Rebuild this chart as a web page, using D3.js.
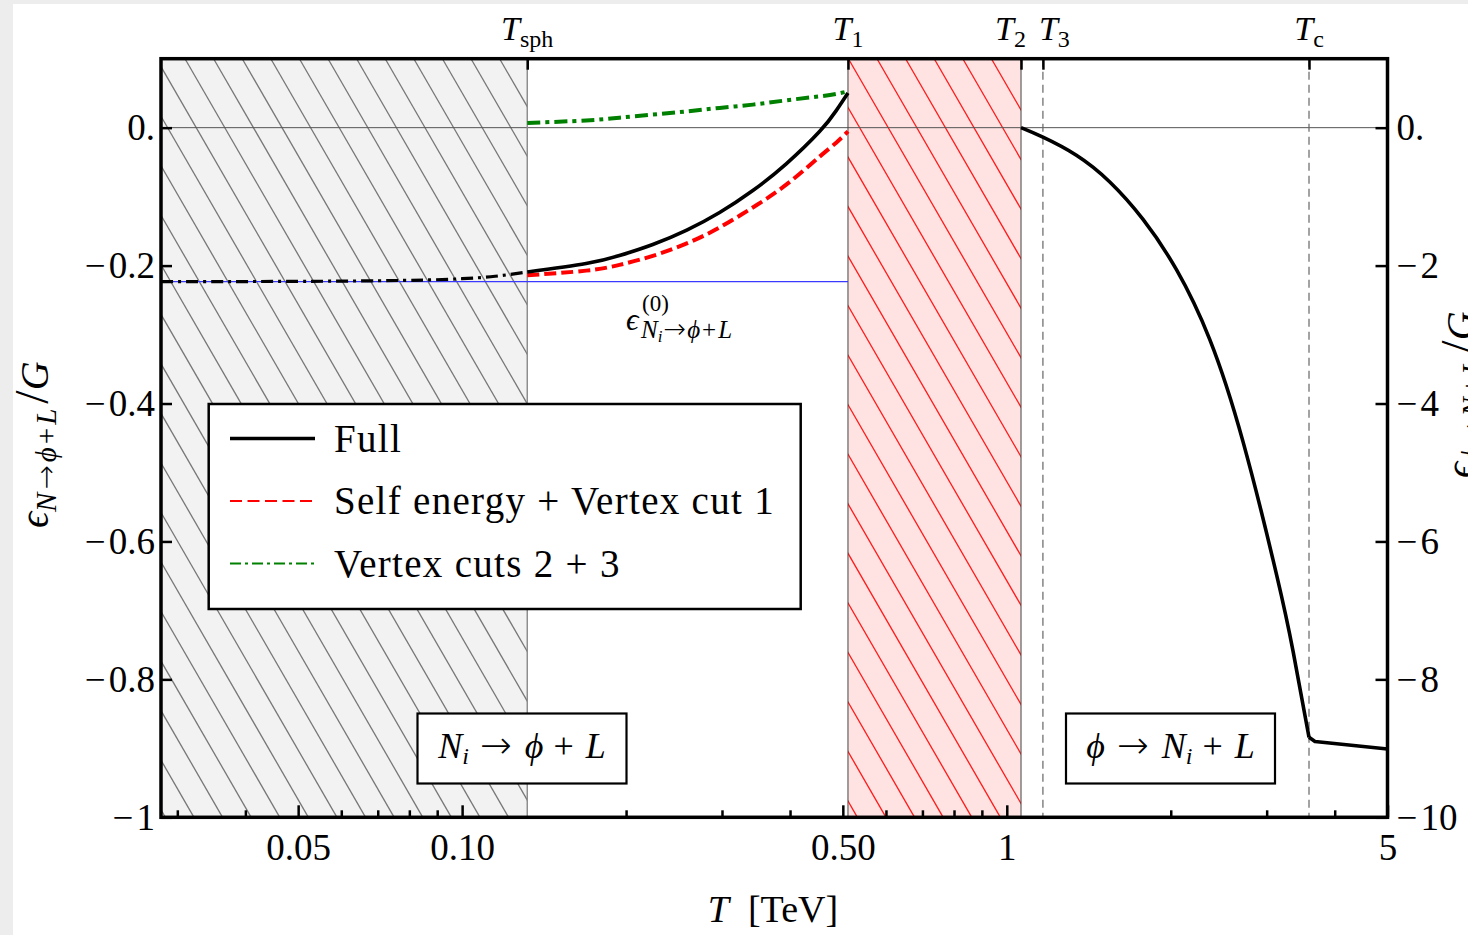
<!DOCTYPE html>
<html>
<head>
<meta charset="utf-8">
<script src="https://cdn.jsdelivr.net/npm/d3@7"></script>
<style>
  body { margin: 0; background: #fff; }
  svg text { font-family: "Liberation Serif", "DejaVu Serif", serif; fill: #000; }
</style>
</head>
<body>
<script>
// ---- data ----
// T in TeV, left axis: eps(N -> phi + L)/G, right axis: eps(phi -> N + L)/G
const tempLow = [0.028, 0.05, 0.07, 0.085, 0.1, 0.115, 0.1317];
const fullLow = [-0.2233, -0.2229, -0.2220, -0.2210, -0.2190, -0.2155, -0.2093];

const tempMid   = [0.1317, 0.1689, 0.1945, 0.2239, 0.2585, 0.2970, 0.3418, 0.3936, 0.4531, 0.4862, 0.511];
const fullMid   = [-0.2093, -0.1971, -0.1855, -0.1695, -0.1486, -0.1231, -0.0912, -0.0525, -0.0057, 0.0247, 0.0503];
const selfMid   = [-0.2141, -0.2073, -0.1990, -0.1859, -0.1679, -0.1447, -0.1157, -0.0827, -0.0421, -0.0218, -0.0054];
const vertexMid = [0.0068, 0.0105, 0.0145, 0.0189, 0.0236, 0.0286, 0.0334, 0.0396, 0.0454, 0.0490, 0.0526];

const tempHigh = [1.062, 1.165, 1.342, 1.544, 1.779, 2.049, 2.358, 2.716, 3.128, 3.356, 3.588];
const fullHigh = [0, -0.138, -0.40, -0.784, -1.33, -2.06, -3.07, -4.56, -6.48, -7.60, -8.84];
const tempTail = [3.588, 3.68, 5];
const fullTail = [-8.84, -8.90, -9.01];

const eps0 = -0.2233;

const markTemps = [0.1317, 0.511, 1.062, 1.165, 3.588];
const markNames = ["sph", "1", "2", "3", "c"];

const xMajor = [0.05, 0.1, 0.5, 1, 5];
const xMajorLabels = ["0.05", "0.10", "0.50", "1", "5"];
const xMinor = [0.03, 0.04, 0.06, 0.07, 0.08, 0.09, 0.2, 0.3, 0.4, 0.6, 0.7, 0.8, 0.9, 2, 3, 4];
const yLeftTicks = [0, -0.2, -0.4, -0.6, -0.8, -1];
const yLeftLabels = ["0.", "\u2212\u200a0.2", "\u2212\u200a0.4", "\u2212\u200a0.6", "\u2212\u200a0.8", "\u2212\u200a1"];
const yRightTicks = [0, -2, -4, -6, -8, -10];
const yRightLabels = ["0.", "\u2212\u200a2", "\u2212\u200a4", "\u2212\u200a6", "\u2212\u200a8", "\u2212\u200a10"];

const legendNames = ["Full", "Self energy + Vertex cut 1", "Vertex cuts 2 + 3"];

// ---- layout ----
const W = 1468, H = 935;
const L = 161, R = 1387.5, T = 58.7, B = 817.3;
const ARROW = '"DejaVu Sans", sans-serif';

const svg = d3.select('body').append('svg')
  .attr('width', W).attr('height', H);

// page border like the screenshot
svg.append('rect').attr('width', W).attr('height', H).attr('fill', '#ededed');
svg.append('rect').attr('x', 13).attr('y', 4).attr('width', W - 13).attr('height', H - 4).attr('fill', '#fff');

const x = d3.scaleLog().domain([0.028, 5]).range([L, R]);
const yL = d3.scaleLinear().domain([-1, 0.1]).range([B, T]);
const yR = d3.scaleLinear().domain([-10, 1]).range([B, T]);

const defs = svg.append('defs');
defs.append('clipPath').attr('id', 'plot-clip')
  .append('rect').attr('x', L).attr('y', T).attr('width', R - L).attr('height', B - T);

// shaded + hatched regions
function hatchRegion(x0, x1, fill, stroke, phase) {
  const id = 'clip' + Math.round(x0);
  defs.append('clipPath').attr('id', id)
    .append('rect').attr('x', x0).attr('y', T).attr('width', x1 - x0).attr('height', B - T);
  const g = svg.append('g').attr('clip-path', `url(#${id})`);
  g.append('rect').attr('x', x0).attr('y', T).attr('width', x1 - x0).attr('height', B - T).attr('fill', fill);
  const step = 28.6;
  const run = (B - T) / Math.tan(Math.PI / 3);
  const kMin = Math.floor((x0 - run - phase) / step) - 1;
  const kMax = Math.ceil((x1 - phase) / step) + 1;
  g.selectAll('line').data(d3.range(kMin, kMax + 1)).enter().append('line')
    .attr('x1', k => phase + k * step).attr('y1', T)
    .attr('x2', k => phase + k * step + run).attr('y2', B)
    .attr('stroke', stroke).attr('stroke-width', 1.3);
}
hatchRegion(x(0.028), x(markTemps[0]), '#f2f2f2', '#777', 185);
hatchRegion(x(markTemps[1]), x(markTemps[2]), '#ffe2e2', '#ff1a1a', 877);

// zero line
svg.append('line')
  .attr('x1', L).attr('x2', R).attr('y1', yL(0)).attr('y2', yL(0))
  .attr('stroke', '#555').attr('stroke-width', 1);

// vertical markers
const vStyles = [
  { c: '#888', w: 1.4, d: null },
  { c: '#444', w: 1, d: null },
  { c: '#444', w: 1, d: null },
  { c: '#666', w: 1.2, d: '8,5' },
  { c: '#666', w: 1.2, d: '8,5' }
];
svg.append('g').selectAll('line').data(markTemps).enter().append('line')
  .attr('x1', d => x(d)).attr('x2', d => x(d))
  .attr('y1', T).attr('y2', B)
  .attr('stroke', (d, i) => vStyles[i].c)
  .attr('stroke-width', (d, i) => vStyles[i].w)
  .attr('stroke-dasharray', (d, i) => vStyles[i].d);

// tree level line
svg.append('line')
  .attr('x1', x(0.028)).attr('x2', x(markTemps[1]))
  .attr('y1', yL(eps0)).attr('y2', yL(eps0))
  .attr('stroke', '#3a3aff').attr('stroke-width', 1.2);

// curves
const plot = svg.append('g').attr('clip-path', 'url(#plot-clip)');
function curve(ts, vs, yScale, color, width, dash, curveType) {
  const line = d3.line()
    .x(d => x(d[0])).y(d => yScale(d[1]))
    .curve(curveType || d3.curveNatural);
  plot.append('path')
    .datum(d3.zip(ts, vs))
    .attr('d', line)
    .attr('fill', 'none')
    .attr('stroke', color)
    .attr('stroke-width', width)
    .attr('stroke-dasharray', dash)
    .attr('stroke-linejoin', 'round');
}
curve(tempLow, fullLow, yL, '#000', 3.2, '12,5,3,5');
curve(tempMid, selfMid, yL, '#ff0000', 4, '12,5');
curve(tempMid, fullMid, yL, '#000', 3.6, null);
curve(tempMid, vertexMid, yL, '#008000', 4, '13,5,4,5');
curve(tempHigh, fullHigh, yR, '#000', 3.6, null);
curve(tempTail, fullTail, yR, '#000', 3.6, null, d3.curveLinear);

// ---- axes ----
function styleAxis(g) {
  g.select('.domain').remove();
  g.selectAll('.tick line').attr('stroke', '#000').attr('stroke-width', 2.5);
  g.selectAll('.tick text').attr('font-size', 37).attr('fill', '#000')
    .attr('font-family', '"Liberation Serif", "DejaVu Serif", serif');
}

svg.append('g').attr('transform', `translate(0,${B})`)
  .call(d3.axisBottom(x).tickValues(xMajor).tickSize(-12).tickPadding(16)
    .tickFormat((d, i) => xMajorLabels[i]))
  .call(styleAxis);
svg.append('g').attr('transform', `translate(0,${B})`)
  .call(d3.axisBottom(x).tickValues(xMinor).tickSize(-7).tickFormat(''))
  .call(styleAxis);

svg.append('g').attr('transform', `translate(0,${T})`)
  .call(d3.axisTop(x).tickValues(markTemps).tickSize(-11).tickFormat(''))
  .call(styleAxis);

svg.append('g').attr('transform', `translate(${L},0)`)
  .call(d3.axisLeft(yL).tickValues(yLeftTicks).tickSize(-11).tickPadding(6)
    .tickFormat((d, i) => yLeftLabels[i]))
  .call(styleAxis);

svg.append('g').attr('transform', `translate(${R},0)`)
  .call(d3.axisRight(yR).tickValues(yRightTicks).tickSize(-12).tickPadding(9)
    .tickFormat((d, i) => yRightLabels[i]))
  .call(styleAxis);

// frame
svg.append('rect')
  .attr('x', L).attr('y', T).attr('width', R - L).attr('height', B - T)
  .attr('fill', 'none').attr('stroke', '#000').attr('stroke-width', 3.5);

// math text helper: each part {t, s: size, i: italic, dy, f: family, ls: letter-spacing, dx}
function mathText(sel, parts) {
  parts.forEach(p => {
    const ts = sel.append('tspan')
      .attr('font-size', p.s)
      .attr('font-style', p.i ? 'italic' : 'normal')
      .text(p.t);
    if (p.dy) ts.attr('dy', p.dy);
    if (p.dx) ts.attr('dx', p.dx);
    if (p.f) ts.attr('font-family', p.f).attr('font-weight', 200);
    if (p.ls) ts.attr('letter-spacing', p.ls);
  });
  return sel;
}

// top marker labels
const markAnchor = ['middle', 'middle', 'end', 'start', 'middle'];
const markShift = [0, 0, 5, -4, 0];
markTemps.forEach((t, i) => {
  const txt = svg.append('text')
    .attr('x', x(t) + markShift[i]).attr('y', 40)
    .attr('text-anchor', markAnchor[i]);
  mathText(txt, [{ t: 'T', s: 34, i: true }, { t: markNames[i], s: 24, dy: 7 }]);
});

// axis titles
mathText(svg.append('text').attr('x', 773).attr('y', 922).attr('text-anchor', 'middle'),
  [{ t: 'T', s: 38, i: true }, { t: '\u2002[TeV]', s: 38 }]);

function epsTitle(tx, ty, sub) {
  mathText(svg.append('text').attr('transform', `translate(${tx},${ty}) rotate(-90)`), [
    { t: '\u03f5', s: 40, i: true },
    { t: sub[0], s: 29, i: true, dy: 8, ls: 3 },
    { t: '\u2192', s: 29, f: ARROW },
    { t: sub[1], s: 29, i: true, dx: 3, ls: 3 },
    { t: '+', s: 29, ls: 3 },
    { t: 'L', s: 29, i: true },
    { t: '/', s: 48, dy: -8, dx: 5 },
    { t: 'G', s: 40, i: true }
  ]);
}
epsTitle(48, 528, ['N', '\u03d5']);
epsTitle(1474, 478, ['\u03d5', 'N']);

// eps0 annotation
const ax = x(0.2), ay = 330;
mathText(svg.append('text').attr('x', ax).attr('y', ay), [{ t: '\u03f5', s: 31, i: true }]);
mathText(svg.append('text').attr('x', ax + 16).attr('y', ay - 19), [{ t: '(0)', s: 23 }]);
mathText(svg.append('text').attr('x', ax + 15).attr('y', ay + 8), [
  { t: 'N', s: 25, i: true },
  { t: 'i', s: 17, i: true, dy: 4 },
  { t: '\u2192', s: 27, f: ARROW, dy: -4, dx: 1 },
  { t: '\u03d5', s: 25, i: true, dx: 1, ls: 2 },
  { t: '+', s: 25, ls: 2 },
  { t: 'L', s: 25, i: true }
]);

// legend
const lg = svg.append('g');
lg.append('rect').attr('x', 208.7).attr('y', 404).attr('width', 592).attr('height', 205)
  .attr('fill', '#fff').attr('stroke', '#000').attr('stroke-width', 2.5);
const legendStyle = [
  { c: '#000', w: 3.5, d: null },
  { c: '#ff0000', w: 2.2, d: '12,5.5' },
  { c: '#008000', w: 2.2, d: '11,4,3,4' }
];
legendNames.forEach((name, i) => {
  const yy = 438.5 + i * 62.5;
  lg.append('line').attr('x1', 230).attr('x2', 315).attr('y1', yy).attr('y2', yy)
    .attr('stroke', legendStyle[i].c).attr('stroke-width', legendStyle[i].w)
    .attr('stroke-dasharray', legendStyle[i].d);
  lg.append('text').attr('x', 334).attr('y', yy + 13)
    .attr('font-size', 39).attr('letter-spacing', 1.3).text(name);
});

// process boxes
function processBox(cx, parts) {
  const g = svg.append('g');
  g.append('rect').attr('x', cx - 104.5).attr('y', 713.5).attr('width', 209).attr('height', 70)
    .attr('fill', '#fff').attr('stroke', '#000').attr('stroke-width', 2.2);
  mathText(g.append('text').attr('x', cx).attr('y', 758).attr('text-anchor', 'middle'), parts);
}
processBox(522, [
  { t: 'N', s: 36, i: true }, { t: 'i', s: 24, i: true, dy: 6 },
  { t: '\u2192', s: 38, f: ARROW, dy: -6, dx: 11 },
  { t: '\u03d5', s: 36, i: true, dx: 13 }, { t: '+', s: 36, dx: 10 }, { t: 'L', s: 36, i: true, dx: 12 }
]);
processBox(1170.5, [
  { t: '\u03d5', s: 36, i: true },
  { t: '\u2192', s: 38, f: ARROW, dx: 12 },
  { t: 'N', s: 36, i: true, dx: 13 }, { t: 'i', s: 24, i: true, dy: 6 },
  { t: '+', s: 36, dy: -6, dx: 10 }, { t: 'L', s: 36, i: true, dx: 12 }
]);
</script>
</body>
</html>
